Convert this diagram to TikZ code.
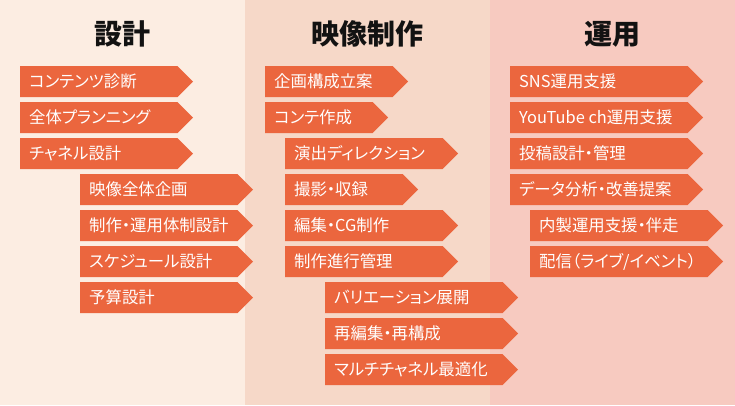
\documentclass[tikz,border=0pt]{standalone}
\usepackage{fontspec}
\setmainfont{Noto Sans CJK JP}[RawFeature=+palt]
\usepackage{tikz}
\definecolor{bgdesign}{RGB}{252,237,226}
\definecolor{bgprod}{RGB}{246,216,200}
\definecolor{bgops}{RGB}{247,202,192}
\definecolor{itemorange}{RGB}{235,102,62}
\tikzset{
  item/.style={fill=itemorange},
  itemtext/.style={anchor=west, text=white, inner sep=0pt, font=\fontsize{16.4}{19}\selectfont, text height=14.43pt, text depth=1.97pt},
  headtext/.style={text=black!93, inner sep=0pt, font=\fontsize{28}{33}\selectfont\bfseries, text height=24.64pt, text depth=3.36pt}
}

\begin{document}
\begin{tikzpicture}[x=1pt, y=-1pt]
    \useasboundingbox (0,0) rectangle (735,405);
    % Column backgrounds
    \fill[bgdesign] (0,0) rectangle (245,405);
    \fill[bgprod] (245,0) rectangle (490,405);
    \fill[bgops] (490,0) rectangle (735,405);
    % Column headings
    \node[headtext] (hd) at (122.5,33.5) {設計};
    \node[headtext] (hp) at (367.5,33.5) {映像制作};
    \node[headtext] (ho) at (612.5,33.5) {運用};
    % Design column
    \fill[item] (20,66) -- (177.5,66) -- (193,81.5) -- (177.5,97) -- (20,97) -- cycle;
    \node[itemtext] (d1) at (29,81.5) {コンテンツ診断};
    \fill[item] (20,102) -- (177.5,102) -- (193,117.5) -- (177.5,133) -- (20,133) -- cycle;
    \node[itemtext] (d2) at (29,117.5) {全体プランニング};
    \fill[item] (20,138) -- (177.5,138) -- (193,153.5) -- (177.5,169) -- (20,169) -- cycle;
    \node[itemtext] (d3) at (29,153.5) {チャネル設計};
    \fill[item] (80,174) -- (237.5,174) -- (253,189.5) -- (237.5,205) -- (80,205) -- cycle;
    \node[itemtext] (d4) at (89,189.5) {映像全体企画};
    \fill[item] (80,210) -- (237.5,210) -- (253,225.5) -- (237.5,241) -- (80,241) -- cycle;
    \node[itemtext] (d5) at (89,225.5) {制作・運用体制設計};
    \fill[item] (80,246) -- (237.5,246) -- (253,261.5) -- (237.5,277) -- (80,277) -- cycle;
    \node[itemtext] (d6) at (89,261.5) {スケジュール設計};
    \fill[item] (80,282) -- (237.5,282) -- (253,297.5) -- (237.5,313) -- (80,313) -- cycle;
    \node[itemtext] (d7) at (89,297.5) {予算設計};
    % Production column
    \fill[item] (265,66) -- (392.5,66) -- (408,81.5) -- (392.5,97) -- (265,97) -- cycle;
    \node[itemtext] (p1) at (274,81.5) {企画構成立案};
    \fill[item] (265,102) -- (372.5,102) -- (388,117.5) -- (372.5,133) -- (265,133) -- cycle;
    \node[itemtext] (p2) at (274,117.5) {コンテ作成};
    \fill[item] (285,138) -- (442.5,138) -- (458,153.5) -- (442.5,169) -- (285,169) -- cycle;
    \node[itemtext] (p3) at (294,153.5) {演出ディレクション};
    \fill[item] (285,174) -- (402.5,174) -- (418,189.5) -- (402.5,205) -- (285,205) -- cycle;
    \node[itemtext] (p4) at (294,189.5) {撮影・収録};
    \fill[item] (285,210) -- (442.5,210) -- (458,225.5) -- (442.5,241) -- (285,241) -- cycle;
    \node[itemtext] (p5) at (294,225.5) {編集・CG制作};
    \fill[item] (285,246) -- (442.5,246) -- (458,261.5) -- (442.5,277) -- (285,277) -- cycle;
    \node[itemtext] (p6) at (294,261.5) {制作進行管理};
    \fill[item] (325,282) -- (502.5,282) -- (518,297.5) -- (502.5,313) -- (325,313) -- cycle;
    \node[itemtext] (p7) at (334,297.5) {バリエーション展開};
    \fill[item] (325,318) -- (502.5,318) -- (518,333.5) -- (502.5,349) -- (325,349) -- cycle;
    \node[itemtext] (p8) at (334,333.5) {再編集・再構成};
    \fill[item] (325,354) -- (502.5,354) -- (518,369.5) -- (502.5,385) -- (325,385) -- cycle;
    \node[itemtext] (p9) at (334,369.5) {マルチチャネル最適化};
    % Operations column
    \fill[item] (510,66) -- (687.5,66) -- (703,81.5) -- (687.5,97) -- (510,97) -- cycle;
    \node[itemtext] (o1) at (519,81.5) {SNS運用支援};
    \fill[item] (510,102) -- (687.5,102) -- (703,117.5) -- (687.5,133) -- (510,133) -- cycle;
    \node[itemtext] (o2) at (519,117.5) {YouTube ch運用支援};
    \fill[item] (510,138) -- (687.5,138) -- (703,153.5) -- (687.5,169) -- (510,169) -- cycle;
    \node[itemtext] (o3) at (519,153.5) {投稿設計・管理};
    \fill[item] (510,174) -- (687.5,174) -- (703,189.5) -- (687.5,205) -- (510,205) -- cycle;
    \node[itemtext] (o4) at (519,189.5) {データ分析・改善提案};
    \fill[item] (530,210) -- (707.5,210) -- (723,225.5) -- (707.5,241) -- (530,241) -- cycle;
    \node[itemtext] (o5) at (539,225.5) {内製運用支援・伴走};
    \fill[item] (530,246) -- (707.5,246) -- (723,261.5) -- (707.5,277) -- (530,277) -- cycle;
    \node[itemtext] (o6) at (539,261.5) {配信（ライブ/イベント）};
  \end{tikzpicture}
\end{document}
